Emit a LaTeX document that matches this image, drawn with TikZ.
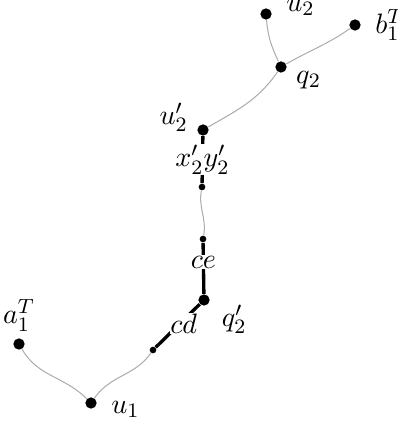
\documentclass[tikz,border=0pt]{standalone}
\usepackage{amsmath,amssymb}
\usepackage{tikz}
\usetikzlibrary{positioning, calc}

\tikzset{
    dot/.style={circle, fill=black, inner sep=0pt, minimum size=4.4pt},
    sdot/.style={circle, fill=black, inner sep=0pt, minimum size=2.6pt},
    wire/.style={gray!65, line width=0.4pt},
    bond/.style={line width=1.3pt},
    lab/.style={fill=white, inner sep=0.3pt},
    every label/.style={font=\fontsize{11}{13}\selectfont}
}

\begin{document}
\begin{tikzpicture}[x=0.39pt, y=-0.39pt, every node/.append style={font=\fontsize{11}{13}\selectfont}]
        \useasboundingbox (0,0) rectangle (397,430);
        % upper part
        \node[dot, label={[label distance=2pt, yshift=2.5pt]right:$u_2$}] (u2) at (266,14) {};
        \node[dot, label={[label distance=2pt]right:$b_1^T$}] (b1) at (355,25) {};
        \node[dot, label={[label distance=0pt, yshift=-5pt]right:$q_2$}] (q2) at (281,67) {};
        \node[dot, label={[label distance=0pt, yshift=5pt]left:$u'_2$}] (u2p) at (203,130) {};
        % middle chain
        \node[sdot] (xy) at (202,187) {};
        \node[sdot] (ce) at (203,239) {};
        \node[dot, label={[label distance=1pt, yshift=-7.5pt]right:$q'_2$}] (q2p) at (204,300) {};
        \node[sdot] (cd) at (153,350) {};
        % lower part
        \node[dot, label={[label distance=2pt, yshift=-2.5pt]right:$u_1$}] (u1) at (91,403) {};
        \node[dot, label={[label distance=-1pt]above:$a_1^T$}] (a1) at (19,344) {};

        \draw[wire] (u2) to[out=-85, in=115] (q2);
        \draw[wire] (b1) to[out=215, in=30] (q2);
        \draw[wire] (q2) to[out=235, in=30] (u2p);
        \draw[wire] (xy) to[out=-100, in=80] (ce);
        \draw[wire] (cd) to[out=235, in=55] (u1);
        \draw[wire] (a1) to[out=-60, in=135] (u1);

        \draw[bond] (u2p) -- node[lab] {$x'_2y'_2$} (xy);
        \draw[bond] (ce) -- node[lab, pos=0.38] {$ce$} (q2p);
        \draw[bond] (q2p) -- node[lab, pos=0.45, xshift=1.5pt] {$cd$} (cd);
    \end{tikzpicture}
\end{document}
